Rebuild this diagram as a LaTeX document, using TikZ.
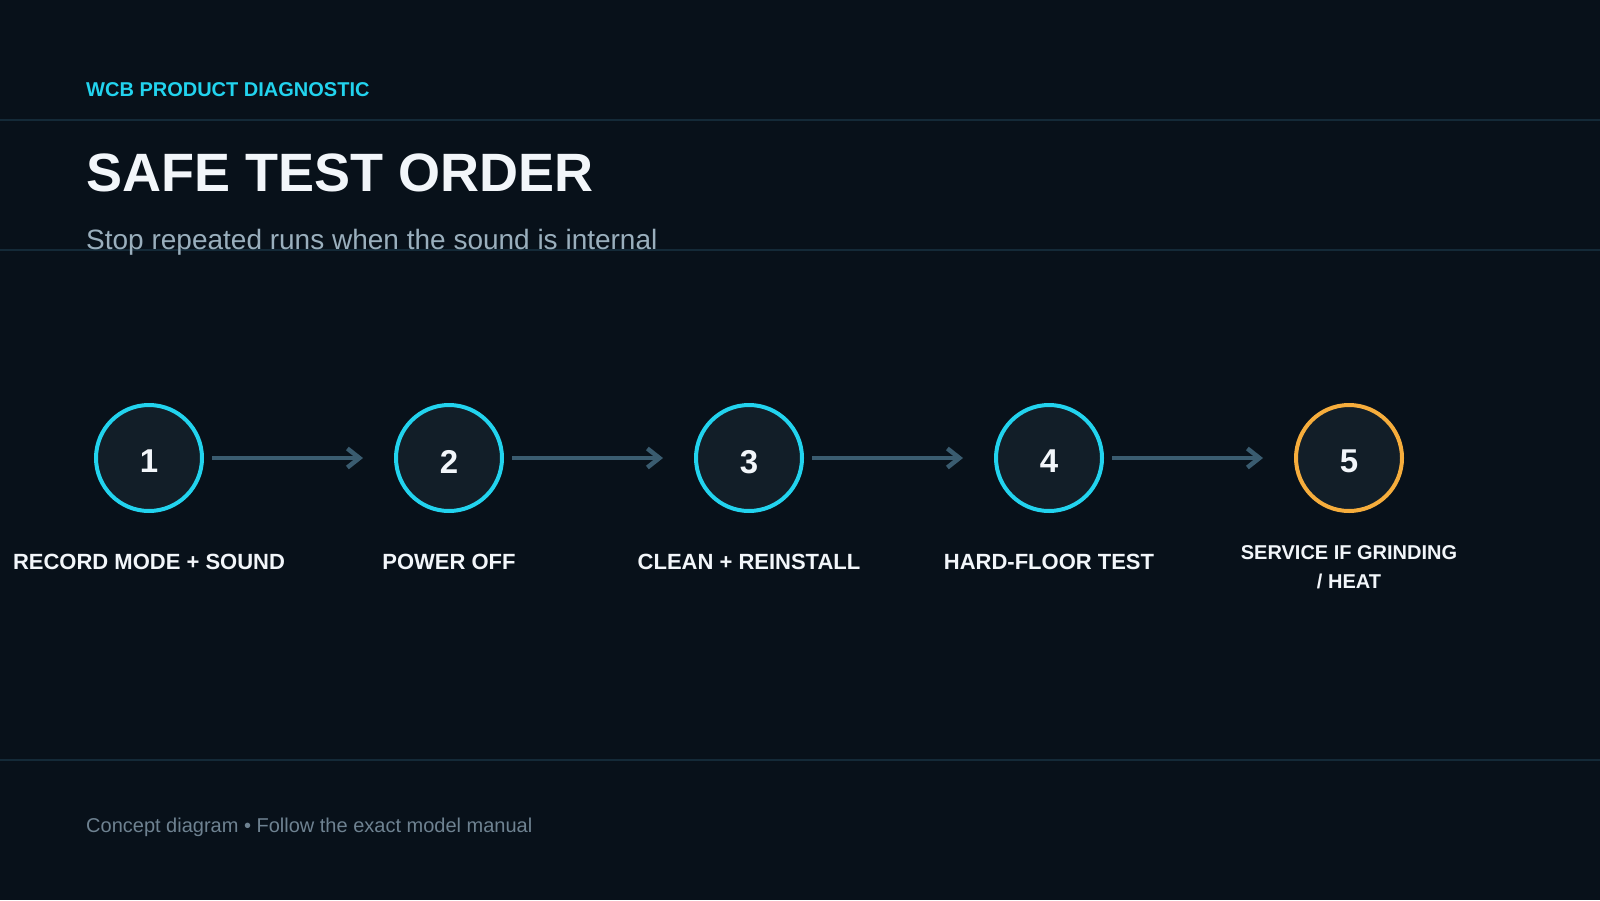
\documentclass[tikz,border=0pt]{standalone}
\usepackage{fontspec}
\setmainfont{Liberation Sans}
\usetikzlibrary{arrows.meta}
\definecolor{bgc}{HTML}{08111A}
\definecolor{fillc}{HTML}{121E28}
\definecolor{cyanc}{HTML}{22D3EE}
\definecolor{orangec}{HTML}{F6AD3C}
\definecolor{arrowc}{HTML}{3A5C70}
\definecolor{rulec}{HTML}{142A38}
\definecolor{subc}{HTML}{9AAFBD}
\definecolor{footc}{HTML}{6E8291}
\definecolor{whitec}{HTML}{F2F6FA}
\newcommand{\stepnum}[1]{\raisebox{-3.5pt}[\height][0pt]{#1}}
\tikzset{
  stepcircle/.style={circle, draw=cyanc, fill=fillc, line width=4pt, minimum size=106pt, inner sep=0pt, outer sep=0pt, text=whitec, font=\fontsize{33}{40}\selectfont\bfseries},
  stepcircleorange/.style={stepcircle, draw=orangec},
  steplabel/.style={text=whitec, font=\fontsize{22}{29}\selectfont\bfseries, align=center, inner sep=0pt},
  steplabelsmall/.style={steplabel, font=\fontsize{20}{29}\selectfont\bfseries},
  flowarrow/.style={draw=arrowc, line width=4.5pt, -{Straight Barb[length=12pt,width=19pt]}},
  rulerline/.style={draw=rulec, line width=1.5pt}
}
\begin{document}
\begin{tikzpicture}[x=1pt,y=-1pt]
\useasboundingbox (0,0) rectangle (1600,900);
\fill[bgc] (0,0) rectangle (1600,900);
% rules
\coordinate (r1a) at (0,120); \coordinate (r1b) at (1600,120);
\coordinate (r2a) at (0,250); \coordinate (r2b) at (1600,250);
\coordinate (r3a) at (0,760); \coordinate (r3b) at (1600,760);
\draw[rulerline] (r1a) -- (r1b);
\draw[rulerline] (r2a) -- (r2b);
\draw[rulerline] (r3a) -- (r3b);
% header texts
\node[anchor=base west, inner sep=0pt, text=cyanc, font=\fontsize{20}{24}\selectfont\bfseries] (kicker) at (86,96) {WCB PRODUCT DIAGNOSTIC};
\node[anchor=base west, inner sep=0pt, text=whitec, font=\fontsize{54}{64}\selectfont\bfseries] (title) at (86,191) {SAFE TEST ORDER};
\node[anchor=base west, inner sep=0pt, text=subc, font=\fontsize{28}{32}\selectfont] (subtitle) at (86,249) {Stop repeated runs when the sound is internal};
% steps
\node[stepcircle] (c1) at (149,458) {\stepnum{1}};
\node[stepcircle] (c2) at (449,458) {\stepnum{2}};
\node[stepcircle] (c3) at (749,458) {\stepnum{3}};
\node[stepcircle] (c4) at (1049,458) {\stepnum{4}};
\node[stepcircleorange] (c5) at (1349,458) {\stepnum{5}};
\draw[flowarrow] ([xshift=10pt]c1.east) -- ([xshift=-33pt]c2.west);
\draw[flowarrow] ([xshift=10pt]c2.east) -- ([xshift=-33pt]c3.west);
\draw[flowarrow] ([xshift=10pt]c3.east) -- ([xshift=-33pt]c4.west);
\draw[flowarrow] ([xshift=10pt]c4.east) -- ([xshift=-33pt]c5.west);
\node[steplabel] (l1) at (149,562) {RECORD MODE + SOUND};
\node[steplabel] (l2) at (449,562) {POWER OFF};
\node[steplabel] (l3) at (749,562) {CLEAN + REINSTALL};
\node[steplabel] (l4) at (1049,562) {HARD-FLOOR TEST};
\node[steplabelsmall] (l5) at (1349,567) {SERVICE IF GRINDING\\/ HEAT};
% footer
\node[anchor=base west, inner sep=0pt, text=footc, font=\fontsize{20}{24}\selectfont] (footer) at (86,832) {Concept diagram • Follow the exact model manual};
\end{tikzpicture}
\end{document}
